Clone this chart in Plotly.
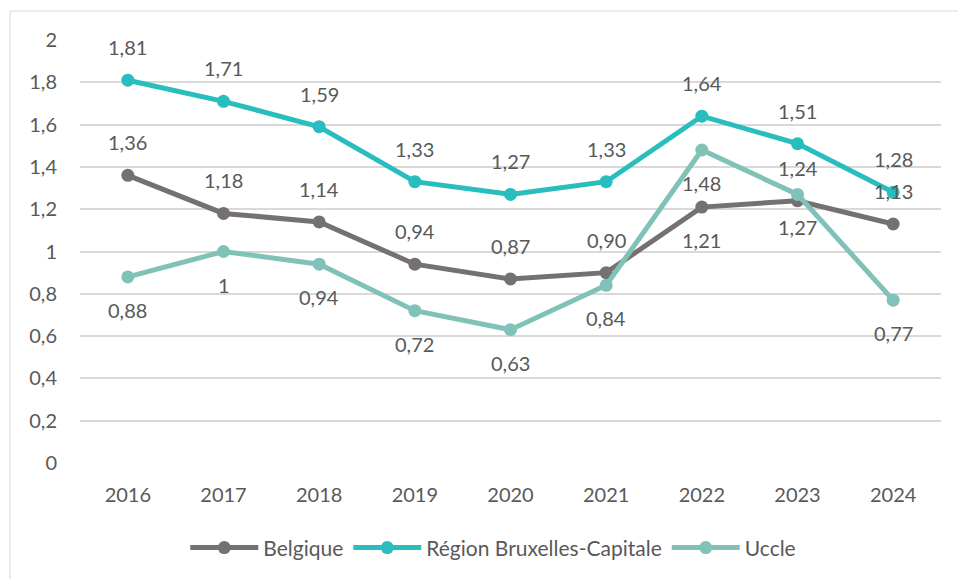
import plotly.graph_objects as go

years = ["2016", "2017", "2018", "2019", "2020", "2021", "2022", "2023", "2024"]
belgique = [1.36, 1.18, 1.14, 0.94, 0.87, 0.90, 1.21, 1.24, 1.13]
bruxelles = [1.81, 1.71, 1.59, 1.33, 1.27, 1.33, 1.64, 1.51, 1.28]
uccle = [0.88, 1.00, 0.94, 0.72, 0.63, 0.84, 1.48, 1.27, 0.77]

# label placement: +1 above, -1 below
belgique_pos = [1, 1, 1, 1, 1, 1, -1, 1, 1]
bruxelles_pos = [1] * 9
uccle_pos = [-1] * 9

names = ["Belgique", "Région Bruxelles-Capitale", "Uccle"]
colors = ["#767171", "#29BDBD", "#80C2B8"]
TXT = "#595959"
FONT = "Lato"


def fmt(v):
    if abs(v - round(v)) < 1e-9:
        return str(int(round(v)))
    return f"{v:.2f}".replace(".", ",")


fig = go.Figure()
annotations = []
for name, vals, col, pos in zip(names, [belgique, bruxelles, uccle], colors,
                                [belgique_pos, bruxelles_pos, uccle_pos]):
    fig.add_trace(go.Scatter(
        x=years, y=vals, name=name, mode="lines+markers",
        line=dict(color=col, width=5),
        marker=dict(color=col, size=13),
    ))
    for i, (v, p) in enumerate(zip(vals, pos)):
        annotations.append(dict(
            x=i, y=v, xref="x", yref="y", text=fmt(v), showarrow=False,
            yshift=33 * p, font=dict(family=FONT, size=20, color=TXT),
        ))

L, R, T, B = 80, 17, 40, 115
W, H = 958, 579
pw, ph = W - L - R, H - T - B
bx0 = (10 - L) / pw
bx1 = (W + 5 - L) / pw
by1 = (ph - (11 - T)) / ph
by0 = (ph - (H + 5 - T)) / ph

fig.update_layout(
    width=W, height=H,
    margin=dict(l=L, r=R, t=T, b=B),
    paper_bgcolor="white", plot_bgcolor="white",
    separators=", ",
    font=dict(family=FONT, size=20, color=TXT),
    showlegend=True,
    legend=dict(orientation="h", x=0.48, xanchor="center", y=-0.198, yanchor="middle",
                font=dict(family=FONT, size=21, color=TXT), itemwidth=68,
                traceorder="normal", bgcolor="rgba(0,0,0,0)"),
    annotations=annotations,
    shapes=[dict(type="rect", xref="paper", yref="paper", x0=bx0, x1=bx1, y0=by0, y1=by1,
                 line=dict(color="#D9D9D9", width=1), layer="below")],
    xaxis=dict(type="category", range=[-0.5, 8.5], showgrid=False, zeroline=False,
               showline=False, ticks="outside", ticklen=14, tickcolor="rgba(0,0,0,0)",
               tickfont=dict(family=FONT, size=20, color=TXT)),
    yaxis=dict(range=[0, 2], dtick=0.2, tick0=0, showgrid=True, gridcolor="#D9D9D9",
               gridwidth=1.5, zeroline=False, showline=False, ticks="outside",
               ticklen=18, tickcolor="rgba(0,0,0,0)",
               tickfont=dict(family=FONT, size=20, color=TXT)),
)

fig.write_html("out.html", config={"displayModeBar": False},
               post_script="document.body.style.margin='0';document.body.style.padding='0';")
